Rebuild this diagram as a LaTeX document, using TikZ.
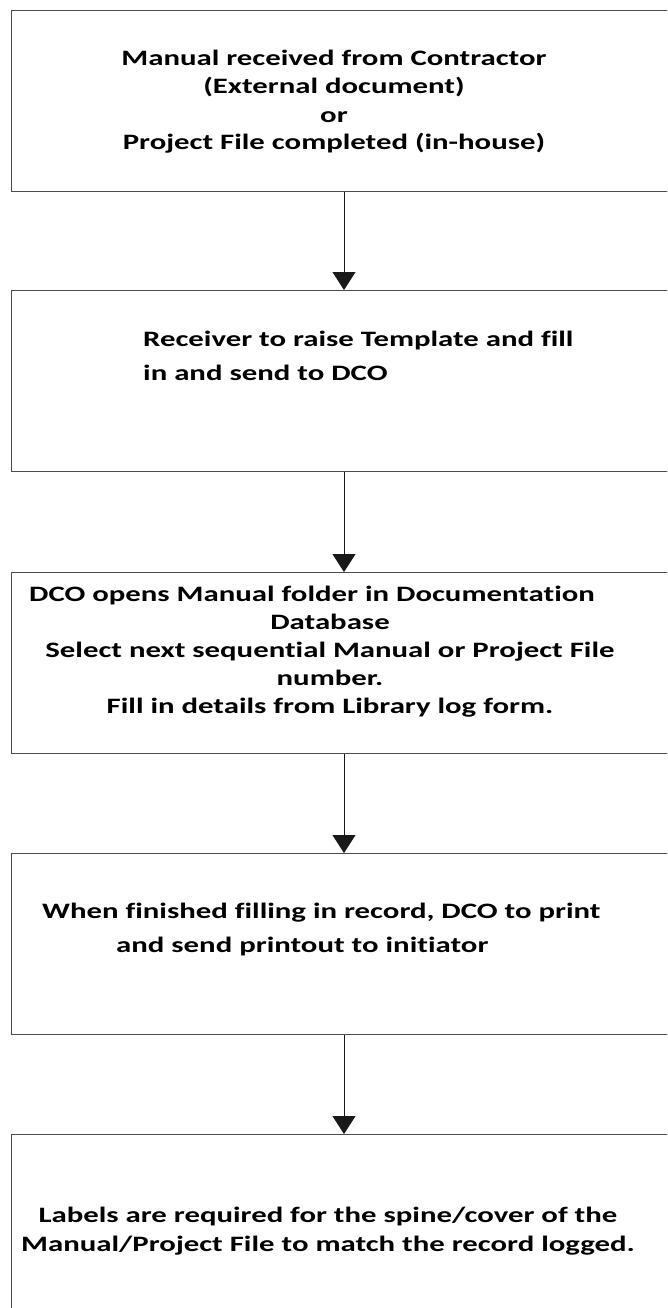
\documentclass[tikz,border=0pt]{standalone}
\usepackage{fontspec}
\setmainfont{Carlito}[FakeStretch=1.4, Ligatures=NoCommon]
\usetikzlibrary{arrows.meta}

\tikzset{
  stepbox/.style={draw=black!70, line width=1.3pt, rectangle, anchor=north west,
    minimum width=700pt, minimum height=181pt, inner sep=0pt},
  steptext/.style={font=\bfseries\fontsize{22}{28}\selectfont, text=black, inner sep=0pt},
  flow/.style={draw=black!90, line width=0.8pt, -{Triangle[width=23pt,length=18pt]}},
}

\begin{document}
\begin{tikzpicture}[x=1pt, y=-1pt]
  \path[use as bounding box, clip] (0,0) rectangle (667,1308);
  \coordinate (ax) at (344,0);

  % process boxes (right side runs past the page edge)
  \node[stepbox] (b1) at (11,10) {};
  \node[stepbox] (b2) at (11,290) {};
  \node[stepbox] (b3) at (11,572) {};
  \node[stepbox] (b4) at (11,853) {};
  \node[stepbox, minimum height=200pt] (b5) at (11,1134) {};

  % box texts, each placed by the baseline of its last line
  \node[steptext, align=center, anchor=base] (t1) at (334,150)
    {Manual received from Contractor\\(External document)\\or\\Project File completed (in-house)};
  \node[steptext, align=left, anchor=base west, font=\bfseries\fontsize{22}{34}\selectfont] (t2) at (143,380)
    {Receiver to raise Template and fill\\in and send to DCO};
  \node[steptext, align=center, anchor=base] (t3) at (330,713)
    {DCO opens Manual folder in Documentation\hspace*{36pt}\\Database\\Select next sequential Manual or Project File\hspace*{16pt}\\number.\\Fill in details from Library log form.};
  \node[steptext, align=left, anchor=base west, font=\bfseries\fontsize{22}{34}\selectfont] (t4) at (42,952)
    {When finished filling in record, DCO to print\\\hspace*{74pt}and send printout to initiator};
  \node[steptext, align=center, anchor=base, font=\bfseries\fontsize{22}{29}\selectfont] (t5) at (328,1251)
    {Labels are required for the spine/cover of the\\Manual/Project File to match the record logged.};

  % connectors
  \draw[flow] (b1.south -| ax) -- (b2.north -| ax);
  \draw[flow] (b2.south -| ax) -- (b3.north -| ax);
  \draw[flow] (b3.south -| ax) -- (b4.north -| ax);
  \draw[flow] (b4.south -| ax) -- (b5.north -| ax);
\end{tikzpicture}
\end{document}
